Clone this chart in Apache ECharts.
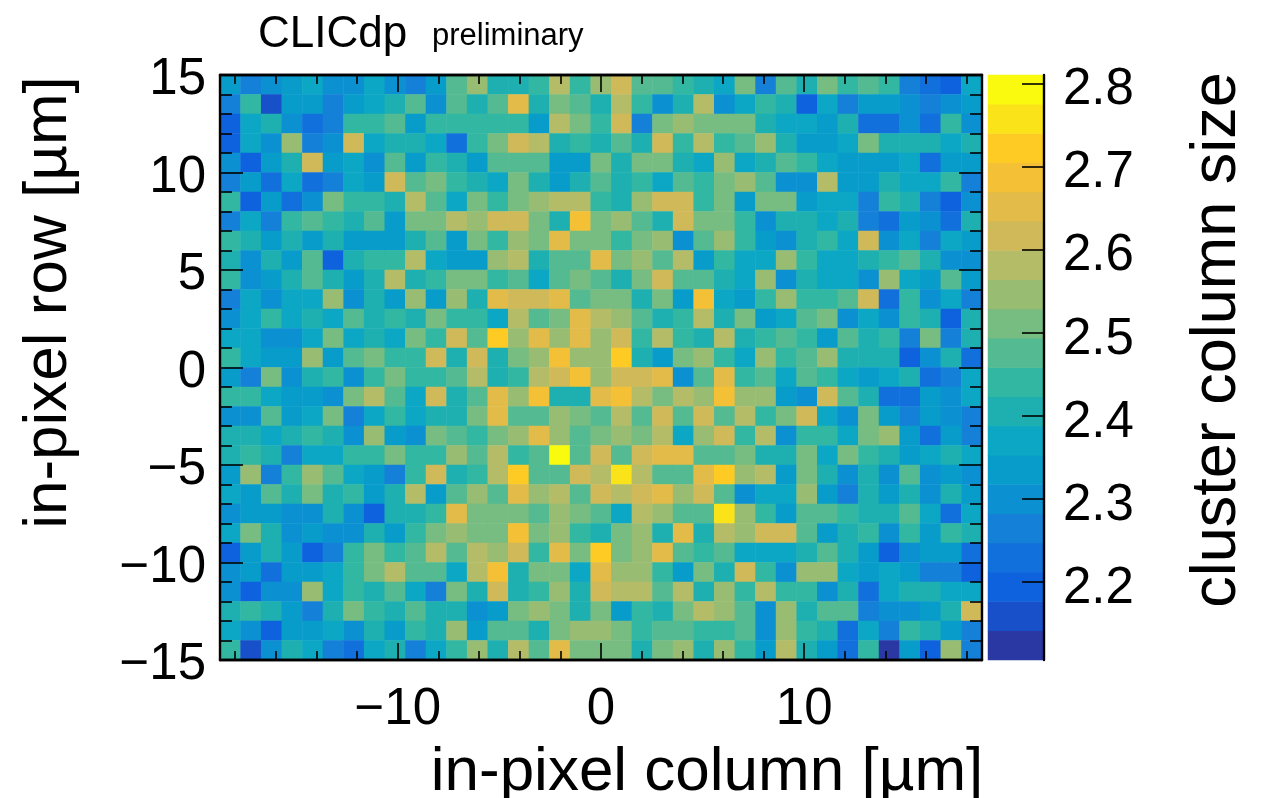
<!DOCTYPE html>
<html><head><meta charset="utf-8">
<style>html,body{margin:0;padding:0;background:#fff}#c{width:1266px;height:798px}</style>
<script src="https://cdn.jsdelivr.net/npm/echarts@6/dist/echarts.min.js"></script>
</head><body><div id="c"></div>
<script>
// Column and row bin labels (µm position bins; 37 columns, 30 rows)
const columnBins = [0,1,2,3,4,5,6,7,8,9,10,11,12,13,14,15,16,17,18,19,20,21,22,23,24,25,26,27,28,29,30,31,32,33,34,35,36];
const rowBins = [0,1,2,3,4,5,6,7,8,9,10,11,12,13,14,15,16,17,18,19,20,21,22,23,24,25,26,27,28,29];

// cluster column size per cell, one array per row, top row first
const row00 = [2.33,2.26,2.30,2.33,2.37,2.30,2.30,2.37,2.30,2.26,2.33,2.48,2.55,2.40,2.40,2.44,2.58,2.44,2.55,2.62,2.48,2.48,2.44,2.40,2.37,2.51,2.26,2.48,2.40,2.51,2.44,2.48,2.44,2.26,2.23,2.19,2.37];
const row01 = [2.26,2.44,2.16,2.33,2.33,2.26,2.33,2.37,2.40,2.48,2.30,2.48,2.40,2.48,2.65,2.40,2.51,2.48,2.40,2.58,2.44,2.30,2.40,2.58,2.30,2.37,2.44,2.40,2.19,2.37,2.26,2.33,2.33,2.30,2.26,2.30,2.33];
const row02 = [2.19,2.37,2.40,2.30,2.23,2.26,2.44,2.44,2.48,2.33,2.44,2.44,2.44,2.44,2.44,2.33,2.58,2.51,2.44,2.62,2.26,2.51,2.55,2.51,2.51,2.51,2.40,2.37,2.37,2.33,2.40,2.23,2.23,2.30,2.23,2.44,2.30];
const row03 = [2.19,2.37,2.30,2.55,2.26,2.30,2.62,2.37,2.40,2.40,2.37,2.23,2.44,2.51,2.62,2.58,2.40,2.44,2.40,2.48,2.40,2.62,2.44,2.58,2.44,2.48,2.55,2.40,2.33,2.33,2.37,2.51,2.40,2.40,2.40,2.37,2.40];
const row04 = [2.30,2.19,2.33,2.40,2.62,2.33,2.37,2.30,2.48,2.33,2.44,2.40,2.33,2.48,2.48,2.48,2.33,2.33,2.51,2.40,2.51,2.51,2.40,2.37,2.55,2.37,2.40,2.48,2.44,2.37,2.33,2.33,2.33,2.37,2.23,2.33,2.33];
const row05 = [2.26,2.33,2.23,2.37,2.23,2.26,2.37,2.33,2.62,2.48,2.51,2.44,2.40,2.37,2.51,2.40,2.33,2.40,2.48,2.40,2.44,2.37,2.48,2.44,2.51,2.55,2.48,2.30,2.30,2.58,2.33,2.33,2.40,2.37,2.37,2.44,2.26];
const row06 = [2.44,2.19,2.33,2.23,2.30,2.51,2.44,2.44,2.40,2.58,2.48,2.37,2.51,2.44,2.51,2.55,2.58,2.58,2.44,2.40,2.55,2.62,2.62,2.44,2.51,2.33,2.51,2.51,2.33,2.37,2.37,2.26,2.44,2.40,2.26,2.19,2.30];
const row07 = [2.26,2.37,2.26,2.44,2.48,2.44,2.40,2.48,2.33,2.51,2.51,2.58,2.55,2.62,2.62,2.51,2.40,2.69,2.51,2.55,2.48,2.40,2.62,2.51,2.51,2.44,2.30,2.40,2.40,2.37,2.40,2.26,2.23,2.33,2.30,2.23,2.40];
const row08 = [2.44,2.40,2.33,2.40,2.33,2.40,2.33,2.33,2.33,2.40,2.48,2.33,2.51,2.44,2.55,2.51,2.65,2.51,2.51,2.44,2.51,2.55,2.30,2.48,2.55,2.44,2.33,2.30,2.40,2.44,2.37,2.62,2.30,2.37,2.26,2.37,2.33];
const row09 = [2.40,2.30,2.40,2.33,2.48,2.19,2.40,2.44,2.44,2.58,2.37,2.33,2.33,2.55,2.58,2.40,2.48,2.48,2.65,2.51,2.55,2.48,2.58,2.33,2.44,2.37,2.37,2.55,2.44,2.37,2.37,2.40,2.44,2.48,2.40,2.30,2.30];
const row10 = [2.44,2.30,2.33,2.40,2.48,2.40,2.33,2.40,2.58,2.40,2.44,2.51,2.51,2.44,2.48,2.37,2.48,2.51,2.48,2.40,2.51,2.62,2.48,2.48,2.40,2.37,2.55,2.30,2.40,2.37,2.37,2.30,2.55,2.37,2.33,2.48,2.33];
const row11 = [2.26,2.37,2.30,2.37,2.37,2.55,2.30,2.40,2.33,2.55,2.33,2.55,2.40,2.65,2.62,2.62,2.65,2.48,2.51,2.51,2.40,2.51,2.33,2.69,2.37,2.33,2.44,2.55,2.44,2.44,2.48,2.62,2.23,2.44,2.30,2.37,2.26];
const row12 = [2.30,2.37,2.44,2.37,2.40,2.37,2.48,2.40,2.44,2.40,2.51,2.44,2.44,2.37,2.58,2.48,2.51,2.65,2.58,2.55,2.48,2.40,2.44,2.58,2.40,2.51,2.33,2.37,2.48,2.51,2.30,2.37,2.30,2.44,2.40,2.19,2.40];
const row13 = [2.37,2.37,2.30,2.30,2.37,2.51,2.37,2.40,2.37,2.51,2.44,2.62,2.48,2.72,2.55,2.65,2.55,2.65,2.55,2.62,2.44,2.58,2.44,2.40,2.58,2.40,2.44,2.48,2.44,2.33,2.48,2.40,2.44,2.26,2.51,2.26,2.40];
const row14 = [2.44,2.37,2.33,2.33,2.55,2.33,2.48,2.51,2.44,2.44,2.62,2.40,2.62,2.40,2.51,2.55,2.69,2.55,2.55,2.72,2.40,2.33,2.51,2.55,2.44,2.37,2.55,2.44,2.48,2.55,2.40,2.40,2.40,2.19,2.30,2.40,2.23];
const row15 = [2.33,2.26,2.51,2.30,2.40,2.44,2.30,2.44,2.51,2.44,2.44,2.48,2.58,2.40,2.44,2.58,2.62,2.69,2.55,2.62,2.62,2.65,2.30,2.48,2.65,2.44,2.48,2.37,2.48,2.44,2.37,2.33,2.37,2.40,2.23,2.26,2.37];
const row16 = [2.44,2.44,2.37,2.33,2.33,2.30,2.51,2.58,2.48,2.37,2.62,2.40,2.48,2.65,2.55,2.69,2.40,2.40,2.65,2.69,2.58,2.51,2.58,2.55,2.69,2.55,2.55,2.33,2.30,2.62,2.48,2.40,2.23,2.23,2.33,2.30,2.37];
const row17 = [2.30,2.30,2.48,2.33,2.37,2.51,2.26,2.37,2.44,2.37,2.40,2.40,2.51,2.65,2.48,2.48,2.55,2.51,2.48,2.58,2.48,2.62,2.48,2.62,2.48,2.58,2.44,2.51,2.62,2.37,2.30,2.51,2.33,2.26,2.33,2.30,2.26];
const row18 = [2.40,2.40,2.37,2.40,2.44,2.40,2.30,2.55,2.33,2.30,2.51,2.48,2.44,2.51,2.55,2.65,2.55,2.48,2.51,2.55,2.51,2.58,2.37,2.55,2.62,2.44,2.58,2.30,2.44,2.44,2.37,2.51,2.55,2.33,2.23,2.33,2.26];
const row19 = [2.40,2.44,2.40,2.26,2.37,2.37,2.44,2.44,2.51,2.44,2.44,2.55,2.48,2.58,2.44,2.48,2.79,2.48,2.62,2.48,2.62,2.65,2.65,2.48,2.48,2.51,2.40,2.40,2.51,2.37,2.51,2.44,2.40,2.33,2.37,2.40,2.37];
const row20 = [2.33,2.55,2.26,2.44,2.55,2.48,2.37,2.33,2.26,2.44,2.62,2.40,2.44,2.58,2.72,2.48,2.48,2.62,2.58,2.76,2.58,2.48,2.48,2.65,2.72,2.55,2.58,2.33,2.51,2.40,2.30,2.40,2.30,2.48,2.30,2.33,2.30];
const row21 = [2.37,2.33,2.48,2.40,2.51,2.40,2.44,2.33,2.40,2.58,2.33,2.48,2.55,2.48,2.65,2.55,2.58,2.48,2.62,2.58,2.62,2.65,2.55,2.62,2.48,2.30,2.37,2.37,2.55,2.33,2.26,2.40,2.33,2.40,2.30,2.40,2.33];
const row22 = [2.30,2.33,2.33,2.30,2.30,2.40,2.30,2.19,2.40,2.40,2.44,2.65,2.51,2.51,2.51,2.48,2.55,2.51,2.48,2.37,2.58,2.55,2.48,2.48,2.76,2.55,2.44,2.33,2.48,2.48,2.44,2.40,2.40,2.48,2.37,2.23,2.37];
const row23 = [2.37,2.51,2.40,2.30,2.33,2.30,2.30,2.40,2.33,2.44,2.51,2.55,2.51,2.51,2.69,2.51,2.55,2.44,2.40,2.51,2.55,2.40,2.65,2.40,2.58,2.55,2.62,2.62,2.48,2.33,2.40,2.44,2.30,2.44,2.33,2.44,2.40];
const row24 = [2.19,2.33,2.40,2.33,2.19,2.26,2.44,2.51,2.44,2.48,2.58,2.48,2.58,2.55,2.62,2.44,2.65,2.51,2.72,2.51,2.55,2.65,2.48,2.44,2.48,2.37,2.37,2.37,2.40,2.48,2.40,2.33,2.19,2.30,2.33,2.33,2.23];
const row25 = [2.30,2.33,2.23,2.33,2.33,2.37,2.44,2.51,2.58,2.48,2.48,2.37,2.58,2.69,2.40,2.51,2.51,2.37,2.65,2.55,2.55,2.44,2.33,2.51,2.40,2.62,2.44,2.30,2.55,2.55,2.37,2.33,2.37,2.33,2.26,2.26,2.19];
const row26 = [2.30,2.19,2.30,2.30,2.55,2.37,2.44,2.40,2.48,2.37,2.26,2.51,2.40,2.62,2.40,2.44,2.55,2.40,2.62,2.58,2.58,2.48,2.58,2.40,2.55,2.44,2.58,2.44,2.44,2.30,2.40,2.23,2.37,2.40,2.40,2.37,2.37];
const row27 = [2.40,2.44,2.40,2.33,2.26,2.40,2.51,2.44,2.40,2.48,2.40,2.40,2.30,2.33,2.51,2.55,2.51,2.40,2.51,2.33,2.44,2.40,2.51,2.58,2.55,2.48,2.30,2.55,2.40,2.48,2.48,2.26,2.30,2.30,2.33,2.40,2.62];
const row28 = [2.37,2.30,2.19,2.33,2.33,2.37,2.30,2.40,2.33,2.44,2.40,2.55,2.33,2.48,2.48,2.40,2.51,2.55,2.55,2.51,2.44,2.48,2.48,2.44,2.44,2.48,2.30,2.55,2.44,2.40,2.23,2.37,2.26,2.44,2.40,2.33,2.26];
const row29 = [2.44,2.16,2.30,2.40,2.37,2.26,2.23,2.37,2.40,2.26,2.37,2.44,2.55,2.40,2.58,2.48,2.65,2.51,2.51,2.51,2.40,2.51,2.55,2.40,2.55,2.44,2.33,2.58,2.40,2.33,2.23,2.44,2.12,2.33,2.19,2.55,2.26];
const rowsTopFirst = [row00,row01,row02,row03,row04,row05,row06,row07,row08,row09,row10,row11,row12,row13,row14,row15,row16,row17,row18,row19,row20,row21,row22,row23,row24,row25,row26,row27,row28,row29];

// Colour scale: 20 bands, low to high
const scaleColors = ['#2A38A4','#1750C8','#0F62DE','#1270DC','#1480D8','#0B91D2','#089CCB','#0CA7C4','#1EB0B0','#31B7A2','#53BA91','#77BC80','#98BC72','#B4BC68','#CFB958','#E2BB48','#F4C036','#FDCB24','#FBE31A','#FAFA0E'];
const scaleEdges = [2.1057,2.141,2.176,2.211,2.246,2.282,2.317,2.352,2.387,2.422,2.458,2.493,2.528,2.563,2.598,2.634,2.669,2.704,2.739,2.775,2.81];
const scaleBandValues = [2.12,2.16,2.19,2.23,2.26,2.30,2.33,2.37,2.40,2.44,2.48,2.51,2.55,2.58,2.62,2.65,2.69,2.72,2.76,2.79];

// Tick values
const xMajorTicks = [-10,0,10];
const xMinorTicks = [-18,-16,-14,-12,-8,-6,-4,-2,2,4,6,8,12,14,16,18];
const colorTicks = [2.2,2.3,2.4,2.5,2.6,2.7,2.8];

const FONT = '"Liberation Sans", Arial, sans-serif';
const cellData = [];
rowsTopFirst.forEach((row, r) => row.forEach((v, c) => cellData.push([c, rowBins.length - 1 - r, v])));
const barData = scaleBandValues.map((v, i) => [0, i, v]);
const minusFmt = v => String(v).replace('-', '\u2212');
const tickLine = {color:'#000', width:1.6};

const hiddenCat = (extra) => Object.assign({type:'category', show:false, axisLine:{show:false}, axisTick:{show:false}, axisLabel:{show:false}, splitLine:{show:false}}, extra);
const xVal = (position, values, len, labelled, extra) => Object.assign({
  type:'value', gridIndex:0, position, z:10, min:-18.75, max:18.75, splitLine:{show:false}, minorTick:{show:false},
  axisLine:{show:true, onZero:false, lineStyle:{color:'#000', width:2.4}},
  axisTick:{show:true, inside:true, length:len, lineStyle:tickLine, customValues:values},
  axisLabel: labelled ? {show:true, customValues:values, margin:24, fontSize:51, fontFamily:FONT, color:'#000', formatter:minusFmt} : {show:false}
}, extra);
const yVal = (position, labelled, extra) => Object.assign({
  type:'value', gridIndex:0, position, z:10, min:-15, max:15, interval:5, splitLine:{show:false},
  axisLine:{show:true, onZero:false, lineStyle:{color:'#000', width:2.4}},
  axisTick:{show:true, inside:true, length:23, lineStyle:tickLine},
  minorTick:{show:true, splitNumber:5, length:12, lineStyle:tickLine},
  axisLabel: labelled ? {show:true, margin:14, fontSize:51, fontFamily:FONT, color:'#000', verticalAlign:'top', lineHeight:10, formatter:minusFmt} : {show:false}
}, extra);

const option = {
  animation:false,
  backgroundColor:'#fff',
  title:[
    {text:'CLICdp', left:253, top:8, textStyle:{fontFamily:FONT, fontWeight:'normal', fontSize:44, color:'#000'}},
    {text:'preliminary', left:427, top:16, textStyle:{fontFamily:FONT, fontWeight:'normal', fontSize:31, color:'#000'}}
  ],
  grid:[
    {left:220, top:75, width:762, height:585, outerBoundsMode:'none'},
    {left:988, top:75, width:56, height:585, outerBoundsMode:'none'}
  ],
  xAxis:[
    hiddenCat({gridIndex:0, data:columnBins}),
    xVal('bottom', xMajorTicks, 17, true, {
      name:'in-pixel column [\u00B5m]', nameLocation:'middle', nameGap:82,
      nameTextStyle:{fontFamily:FONT, fontSize:62, color:'#000', padding:[0,0,0,212]}
    }),
    xVal('bottom', xMinorTicks, 9, false),
    xVal('top', xMajorTicks, 17, false),
    xVal('top', xMinorTicks, 9, false),
    hiddenCat({gridIndex:1, data:['scale']})
  ],
  yAxis:[
    hiddenCat({gridIndex:0, data:rowBins}),
    yVal('left', true, {
      name:'in-pixel row [\u00B5m]', nameLocation:'middle', nameRotate:90, nameGap:140,
      nameTextStyle:{fontFamily:FONT, fontSize:62, color:'#000', padding:[0,0,0,130]}
    }),
    yVal('right', false),
    hiddenCat({gridIndex:1, data:scaleBandValues}),
    {type:'value', gridIndex:1, position:'right', z:10, min:2.1057, max:2.81, splitLine:{show:false}, minorTick:{show:false},
      axisLine:{show:true, onZero:false, lineStyle:{color:'#000', width:2.4}},
      axisTick:{show:true, inside:true, length:22, lineStyle:tickLine, customValues:colorTicks},
      axisLabel:{show:true, customValues:colorTicks, margin:19, fontSize:51, fontFamily:FONT, color:'#000', verticalAlign:'top', lineHeight:14, formatter:v => v.toFixed(1)},
      name:'cluster column size', nameLocation:'middle', nameRotate:90, nameGap:142,
      nameTextStyle:{fontFamily:FONT, fontSize:63, color:'#000', padding:[0,0,0,55]}
    }
  ],
  visualMap:{
    type:'piecewise', show:false, seriesIndex:[0,1], dimension:2,
    pieces: scaleColors.map((color, i) => ({min:scaleEdges[i], max:scaleEdges[i+1], color}))
  },
  series:[
    {type:'heatmap', name:'cluster column size', xAxisIndex:0, yAxisIndex:0, data:cellData, progressive:0, itemStyle:{borderWidth:0}, emphasis:{disabled:true}},
    {type:'heatmap', name:'scale', xAxisIndex:5, yAxisIndex:3, data:barData, progressive:0, itemStyle:{borderWidth:0}, emphasis:{disabled:true}}
  ]
};
const chart = echarts.init(document.getElementById('c'), null, {renderer:'canvas'});
chart.setOption(option);
</script></body></html>
